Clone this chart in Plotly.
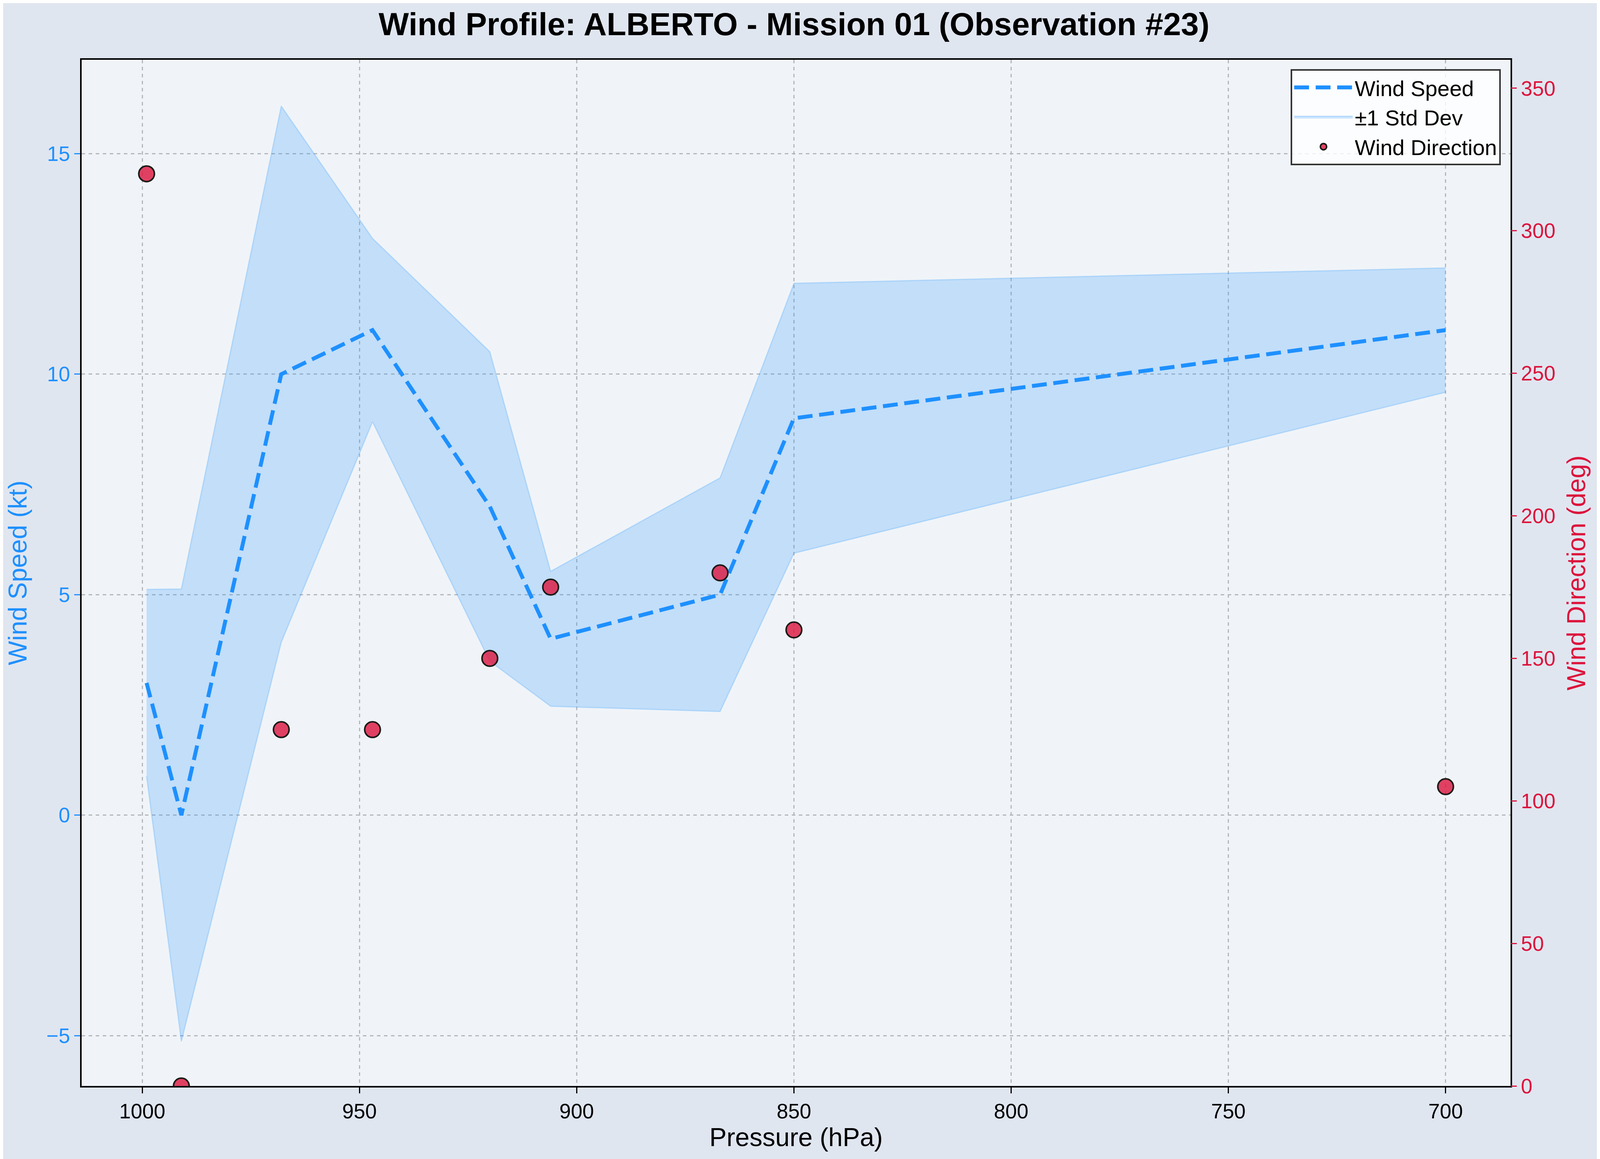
import plotly.graph_objects as go

# Datos
presion = [999, 991, 968, 947, 920, 906, 867, 850, 700]
velocidad = [3, 0, 10, 11, 7, 4, 5, 9, 11]
desv_std = [2.12, 5.13, 6.08, 2.08, 3.51, 1.53, 2.65, 3.06, 1.41]
direccion = [320, 0, 125, 125, 150, 175, 180, 160, 105]

banda_sup = [v + s for v, s in zip(velocidad, desv_std)]
banda_inf = [v - s for v, s in zip(velocidad, desv_std)]

AZUL = "#1E90FF"
ROJO = "#DC143C"
FUENTE = "Liberation Sans, Arial, sans-serif"

fig = go.Figure()

# Banda de +-1 desviacion
fig.add_trace(go.Scatter(
    x=presion, y=banda_inf, mode="lines",
    line=dict(color="rgba(30,144,255,0.22)", width=3),
    showlegend=False, hoverinfo="skip"
))
fig.add_trace(go.Scatter(
    x=presion, y=banda_sup, mode="lines",
    line=dict(color="rgba(30,144,255,0.22)", width=3),
    fill="tonexty", fillcolor="rgba(30,144,255,0.22)",
    name="±1 Std Dev", legendrank=2
))

# Velocidad del viento (encima de la banda)
fig.add_trace(go.Scatter(
    x=presion, y=velocidad, mode="lines",
    line=dict(color=AZUL, width=10, dash="38px,17px"),
    name="Wind Speed", legendrank=1
))

# Direccion del viento (eje derecho)
fig.add_trace(go.Scatter(
    x=presion, y=direccion, mode="markers", yaxis="y2",
    marker=dict(size=40, color="rgba(220,20,60,0.8)",
                line=dict(color="#1a1a1a", width=4)),
    name="Wind Direction", legendrank=3
))

# El ancho util que se fotografia es ~4096 px, asi que la figura se ajusta a eso
fig.update_layout(
    width=4088, height=2967,
    paper_bgcolor="#e0e6f0",
    plot_bgcolor="#f0f4f8",
    font=dict(family=FUENTE, size=53, color="black"),
    margin=dict(l=201, r=229, t=145, b=195),
    title=dict(
        text="<b>Wind Profile: ALBERTO - Mission 01 (Observation #23)</b>",
        font=dict(size=82, color="black"),
        x=0.4953, xanchor="center",
        y=1 - 53 / 2967, yanchor="middle", yref="container"
    ),
    xaxis=dict(
        title=dict(text="Pressure (hPa)", font=dict(size=66), standoff=0),
        range=[1013.95, 685.05], dtick=50, tick0=700,
        showgrid=True, gridcolor="#b4b7ba", gridwidth=3, griddash="dash",
        showline=True, linecolor="black", linewidth=4, mirror=True,
        ticks="outside", ticklen=15, tickwidth=3, tickcolor="black",
        zeroline=False
    ),
    yaxis=dict(
        title=dict(text="Wind Speed (kt)", font=dict(size=66, color=AZUL), standoff=30),
        range=[-6.14, 17.13], dtick=5,
        tickfont=dict(color=AZUL),
        showgrid=True, gridcolor="#b4b7ba", gridwidth=3, griddash="dash",
        showline=True, linecolor="black", linewidth=4, mirror=True,
        ticks="outside", ticklen=15, tickwidth=3, tickcolor=AZUL,
        zeroline=False
    ),
    yaxis2=dict(
        range=[0, 360], dtick=50,
        overlaying="y", side="right",
        tickfont=dict(color=ROJO),
        showgrid=False, zeroline=False,
        ticks="outside", ticklen=15, tickwidth=3, tickcolor=ROJO,
        showline=False
    ),
    legend=dict(
        x=0.9932, y=0.9909, xanchor="right", yanchor="top",
        traceorder="normal",
        bgcolor="rgba(255,255,255,0.8)", bordercolor="#333333", borderwidth=4,
        font=dict(size=56), itemwidth=150
    ),
)

# Titulo del eje derecho
fig.add_annotation(
    text="Wind Direction (deg)", textangle=-90,
    xref="paper", yref="paper", x=1.0459, y=0.5,
    xanchor="center", yanchor="middle",
    showarrow=False, font=dict(size=66, color=ROJO)
)

fig.write_html("out.html")
